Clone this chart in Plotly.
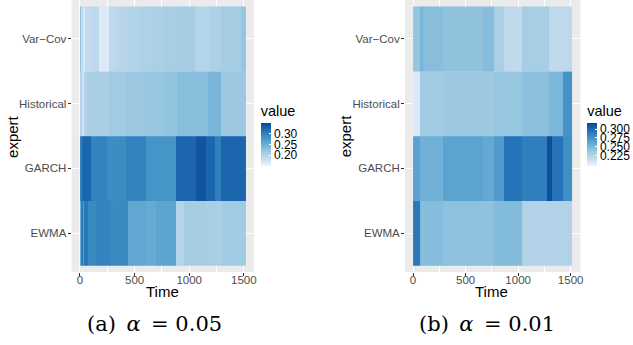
import plotly.graph_objects as go

# ---------------- data ----------------
EXPERTS = ["EWMA", "GARCH", "Historical", "Var\u2212Cov"]   # bottom -> top
X_TICKS = [0, 500, 1000, 1500]

# panel (a) alpha = 0.05 : segment edges (Time) and values
VC_A_EDGES = [0, 10, 30, 45, 65, 120, 175, 265, 330, 430, 560, 660, 780, 884, 1050, 1190, 1294, 1476, 1515]
VC_A_VALS = [0.225, 0.185, 0.168, 0.188, 0.185, 0.19, 0.163, 0.19, 0.195, 0.2, 0.203, 0.206, 0.209, 0.21, 0.198, 0.205, 0.212, 0.222]
HIST_A_EDGES = [0, 20, 35, 65, 265, 420, 590, 780, 884, 1172, 1294, 1515]
HIST_A_VALS = [0.197, 0.178, 0.2, 0.207, 0.214, 0.218, 0.221, 0.224, 0.231, 0.24, 0.218]
GARCH_A_EDGES = [0, 15, 105, 250, 425, 600, 880, 1060, 1150, 1240, 1290, 1515]
GARCH_A_VALS = [0.30, 0.325, 0.298, 0.288, 0.298, 0.28, 0.325, 0.338, 0.325, 0.302, 0.325]
EWMA_A_EDGES = [0, 12, 30, 40, 75, 150, 280, 440, 600, 700, 880, 950, 1150, 1300, 1515]
EWMA_A_VALS = [0.245, 0.305, 0.272, 0.31, 0.29, 0.297, 0.29, 0.258, 0.253, 0.261, 0.198, 0.21, 0.207, 0.213]

# panel (b) alpha = 0.01
VC_B_EDGES = [0, 70, 100, 290, 665, 775, 870, 1040, 1290, 1515]
VC_B_VALS = [0.24, 0.252, 0.245, 0.242, 0.246, 0.23, 0.219, 0.232, 0.22]
HIST_B_EDGES = [0, 70, 290, 775, 1040, 1290, 1430, 1515]
HIST_B_VALS = [0.205, 0.235, 0.237, 0.239, 0.244, 0.25, 0.276]
GARCH_B_EDGES = [0, 70, 290, 665, 775, 870, 1040, 1275, 1320, 1430, 1515]
GARCH_B_VALS = [0.265, 0.254, 0.264, 0.26, 0.27, 0.295, 0.288, 0.313, 0.295, 0.278]
EWMA_B_EDGES = [0, 70, 290, 775, 1040, 1515]
EWMA_B_VALS = [0.292, 0.246, 0.243, 0.247, 0.227]

A_LIMITS = [0.15, 0.35]
B_LIMITS = [0.196, 0.317]
A_CB_TICKS = [0.20, 0.25, 0.30]
B_CB_TICKS = [0.225, 0.250, 0.275, 0.300]
CAPTIONS = ["(a)\u2002<i>\u03b1</i>\u2002=\u00a00.05", "(b)\u2002<i>\u03b1</i>\u2002=\u00a00.01"]
X_TITLE = "Time"
Y_TITLE = "expert"

# ---------------- style ----------------
W, H = 633, 345
BLUES = ["#EFF3FF", "#C6DBEF", "#9ECAE1", "#6BAED6", "#4292C6", "#2171B5", "#084594"]
SCALE = [[i / (len(BLUES) - 1), c] for i, c in enumerate(BLUES)]
FONT = "Liberation Sans, Arial, sans-serif"
SERIF = "DejaVu Serif, serif"

fig = go.Figure()

rows_a = [(EWMA_A_EDGES, EWMA_A_VALS), (GARCH_A_EDGES, GARCH_A_VALS),
          (HIST_A_EDGES, HIST_A_VALS), (VC_A_EDGES, VC_A_VALS)]
rows_b = [(EWMA_B_EDGES, EWMA_B_VALS), (GARCH_B_EDGES, GARCH_B_VALS),
          (HIST_B_EDGES, HIST_B_VALS), (VC_B_EDGES, VC_B_VALS)]

for k, (edges, vals) in enumerate(rows_a):
    fig.add_trace(go.Heatmap(x=edges, y=[k - 0.5, k + 0.5], z=[vals],
                             coloraxis="coloraxis", xaxis="x", yaxis="y",
                             hoverinfo="skip"))
for k, (edges, vals) in enumerate(rows_b):
    fig.add_trace(go.Heatmap(x=edges, y=[k - 0.5, k + 0.5], z=[vals],
                             coloraxis="coloraxis2", xaxis="x2", yaxis="y2",
                             hoverinfo="skip"))

def px_x(p):
    return p / W

def px_y(p):
    return 1 - p / H

y_dom = [px_y(272), 1.0]

def xaxis(dom, anchor):
    return dict(domain=dom, anchor=anchor, range=[-76, 1591],
                tickvals=X_TICKS, ticktext=[str(v) for v in X_TICKS],
                ticks="outside", ticklen=3, tickcolor="#333333", tickwidth=1,
                ticklabelstandoff=-6,
                tickfont=dict(family=FONT, size=11.5, color="#4D4D4D"),
                showgrid=True, gridcolor="white", gridwidth=1.1,
                minor=dict(dtick=250, tick0=0, showgrid=True, gridcolor="white",
                           gridwidth=0.5, ticks=""),
                zeroline=False, showline=False)

def yaxis(anchor):
    return dict(domain=y_dom, anchor=anchor, range=[-0.6, 3.6],
                tickvals=list(range(len(EXPERTS))), ticktext=EXPERTS,
                ticks="outside", ticklen=3, tickcolor="#333333", tickwidth=1,
                ticklabelstandoff=-1,
                tickfont=dict(family=FONT, size=11.5, color="#4D4D4D"),
                showgrid=True, gridcolor="white", gridwidth=1.1,
                zeroline=False, showline=False)

def cbar(x0, ticks, fmt):
    return dict(title=dict(text="value", side="top",
                           font=dict(family=FONT, size=14.5, color="black")),
                thickness=10, len=64, lenmode="pixels",
                x=px_x(x0), xanchor="left", y=px_y(102), yanchor="top",
                xpad=0, ypad=0, outlinewidth=0,
                tickvals=ticks, ticktext=[fmt.format(t) for t in ticks],
                ticks="inside", ticklen=2, tickcolor="white", tickwidth=1,
                tickfont=dict(family=FONT, size=12, color="black"))

def label(text, x, y, size, angle=0, family=FONT):
    return dict(text=text, xref="paper", yref="paper", x=px_x(x), y=px_y(y),
                xanchor="center", yanchor="middle", showarrow=False, textangle=angle,
                font=dict(family=family, size=size, color="black"))

fig.update_layout(
    width=W, height=H, margin=dict(l=0, r=0, t=0, b=0),
    paper_bgcolor="white", plot_bgcolor="#EBEBEB",
    font=dict(family=FONT),
    showlegend=False,
    xaxis=xaxis([px_x(72), px_x(255)], "y"),
    yaxis=yaxis("x"),
    xaxis2=xaxis([px_x(407), px_x(583)], "y2"),
    yaxis2=yaxis("x2"),
    coloraxis=dict(colorscale=SCALE, cmin=A_LIMITS[0], cmax=A_LIMITS[1],
                   colorbar=cbar(262, A_CB_TICKS, "{:.2f}")),
    coloraxis2=dict(colorscale=SCALE, cmin=B_LIMITS[0], cmax=B_LIMITS[1],
                    colorbar=cbar(590, B_CB_TICKS, "{:.3f}")),
    annotations=[
        label(X_TITLE, 163, 291, 15),
        label(X_TITLE, 494, 291, 15),
        label(Y_TITLE, 12, 136, 15, angle=-90),
        label(Y_TITLE, 347, 136, 15, angle=-90),
        label(CAPTIONS[0], 155, 324, 21, family=SERIF),
        label(CAPTIONS[1], 489, 324, 21, family=SERIF),
    ],
)

fig.write_html("out.html")
